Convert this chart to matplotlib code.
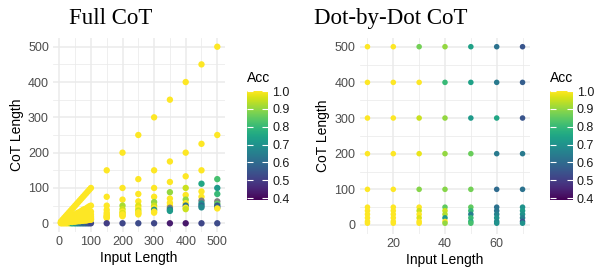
import matplotlib
matplotlib.use("Agg")
import matplotlib.pyplot as plt
from matplotlib.colors import Normalize
from matplotlib.ticker import MultipleLocator, FixedLocator
import numpy as np

# ---- Full CoT: short inputs (dense triangle), CoT lengths per input length
dense_input = [5, 10, 15, 20, 25, 30, 35, 40, 45, 50,
               55, 60, 65, 70, 75, 80, 85, 90, 95, 100]
dense_cot = [
    [5, 2, 1],
    [10, 5, 3, 2, 1],
    [15, 8, 5, 4, 3, 2],
    [20, 10, 7, 5, 4, 3, 2],
    [25, 12, 8, 6, 5, 4, 3],
    [30, 15, 10, 8, 6, 5, 4, 3],
    [35, 18, 12, 9, 7, 6, 5, 4],
    [40, 20, 13, 10, 8, 7, 6, 5, 4],
    [45, 22, 15, 11, 9, 8, 6, 6, 5],
    [50, 25, 17, 12, 10, 8, 7, 6, 6, 5],
    [55, 28, 18, 14, 11, 9, 8, 7, 6, 6],
    [60, 30, 20, 15, 12, 10, 9, 8, 7, 6],
    [65, 32, 22, 16, 13, 11, 9, 8, 7, 6],
    [70, 35, 23, 18, 14, 12, 10, 9, 8, 7],
    [75, 38, 25, 19, 15, 12, 11, 9, 8, 8],
    [80, 40, 27, 20, 16, 13, 11, 10, 9, 8],
    [85, 42, 28, 21, 17, 14, 12, 11, 9, 8],
    [90, 45, 30, 22, 18, 15, 13, 11, 10, 9],
    [95, 48, 32, 24, 19, 16, 14, 12, 11, 10],
    [100, 50, 33, 25, 20, 17, 14, 12, 11, 10],
]
# accuracy of the CoT length 0 row (the others are all 1.0)
dense_zero_acc = [1.0, 1.0, 1.0, 1.0, 1.0, 1.0, 0.9, 0.75, 0.8, 0.7,
                  0.72, 0.65, 0.68, 0.6, 0.62, 0.58, 0.6, 0.55, 0.55, 0.52]

# ---- Full CoT: long inputs
long_input = [150, 200, 250, 300, 350, 400, 450, 500]
long_cot = [
    [150, 75, 50, 38, 30, 25, 21, 19, 17, 15, 0],
    [200, 100, 67, 50, 40, 33, 29, 25, 22, 20, 0],
    [250, 125, 83, 62, 50, 42, 36, 31, 28, 25, 0],
    [300, 150, 100, 75, 60, 50, 43, 38, 33, 30, 0],
    [350, 175, 117, 88, 70, 58, 50, 44, 39, 35, 0],
    [400, 200, 133, 100, 80, 67, 57, 50, 44, 40, 0],
    [450, 225, 150, 112, 90, 75, 64, 56, 50, 45, 0],
    [500, 250, 125, 100, 83, 62, 55, 50, 45, 42, 0],
]
long_acc = [
    [1, 1, 1, 1, 1, 1, 1, 1, 1, 1, 0.50],
    [1, 1, 1, 0.92, 0.95, 1, 0.97, 1, 1, 1, 0.52],
    [1, 1, 1, 1, 0.97, 1, 0.95, 1, 1, 1, 0.53],
    [1, 1, 1, 1, 0.90, 0.95, 1, 0.70, 1, 1, 0.52],
    [1, 1, 1, 0.90, 1, 1, 1, np.nan, 0.65, 0.72, 0.44],
    [1, 1, 1, 0.95, 1, 0.90, 1, 0.62, 1, 0.95, 0.43],
    [1, 1, 1, 0.75, 1, 1, np.nan, 0.70, 0.60, 0.68, 0.52],
    [1, 1, 0.82, 0.72, 0.80, np.nan, 0.85, 0.55, 0.60, 1, 0.53],
]

# ---- Dot-by-Dot CoT
dot_input = [10, 20, 30, 40, 50, 60, 70]
dot_cot = [500, 400, 300, 200, 100, 50, 40, 30, 20, 10, 5]
dot_acc = [
    [1.0, 1.0, 0.87, 0.90, 0.74, 0.62, 0.55],
    [1.0, 1.0, 1.00, 0.80, 0.74, 0.64, 0.57],
    [1.0, 1.0, 0.95, 0.90, 0.72, 0.75, 0.55],
    [1.0, 1.0, 0.98, 0.90, 0.86, 0.64, 0.64],
    [1.0, 1.0, 0.89, 0.89, 0.87, 0.60, 0.62],
    [1.0, 1.0, 1.00, 0.85, 0.85, 0.62, 0.70],
    [1.0, 1.0, 0.95, 0.95, 0.80, 0.63, 0.72],
    [1.0, 1.0, 1.00, 0.93, 0.65, 0.66, 0.70],
    [1.0, 1.0, 0.97, 0.72, 0.80, 0.70, 0.65],
    [1.0, 1.0, 1.00, 1.00, 0.78, 0.68, 0.55],
    [1.0, 1.0, 1.00, 0.90, 0.82, 0.70, 0.70],
]

# ---- flatten
fx, fy, fc = [], [], []
for L, acc0 in zip(dense_input, dense_zero_acc):
    fx.append(L); fy.append(0); fc.append(acc0)
for L, cots in zip(dense_input, dense_cot):
    for c in cots:
        fx.append(L); fy.append(c); fc.append(1.0)
for L, cots, accs in zip(long_input, long_cot, long_acc):
    for c, a in zip(cots, accs):
        fx.append(L); fy.append(c); fc.append(a)

dx, dy, dc = [], [], []
for c, row in zip(dot_cot, dot_acc):
    for L, a in zip(dot_input, row):
        dx.append(L); dy.append(c); dc.append(a)

W, H = 605, 270
fig = plt.figure(figsize=(W / 100, H / 100), dpi=100)

def px_axes(x0, x1, y0, y1):
    return fig.add_axes([x0 / W, 1 - y1 / H, (x1 - x0) / W, (y1 - y0) / H])

cmap = plt.get_cmap("viridis").with_extremes(bad="#7F7F7F")
norm = Normalize(0.39, 1.0)
grid_c = "#EBEBEB"
tick_c = "#4D4D4D"
sans = ["Liberation Sans", "DejaVu Sans"]
serif = ["Liberation Serif", "DejaVu Serif"]


def style_axes(ax, xlim, xmajor, xminor):
    ax.set_xlim(*xlim)
    ax.set_ylim(-25, 525)
    ax.xaxis.set_major_locator(FixedLocator(xmajor))
    ax.xaxis.set_minor_locator(FixedLocator(xminor))
    ax.yaxis.set_major_locator(MultipleLocator(100))
    ax.yaxis.set_minor_locator(FixedLocator([50, 150, 250, 350, 450]))
    ax.grid(True, which="major", color=grid_c, lw=1.1, zorder=0)
    ax.grid(True, which="minor", color=grid_c, lw=0.55, zorder=0)
    ax.set_axisbelow(True)
    for s in ax.spines.values():
        s.set_visible(False)
    ax.tick_params(which="both", length=0, labelsize=9, labelcolor=tick_c, pad=3)
    for lab in ax.get_xticklabels() + ax.get_yticklabels():
        lab.set_family(sans)
    ax.set_xlabel("Input Length", fontsize=10, family=sans, labelpad=2)
    ax.set_ylabel("CoT Length", fontsize=10, family=sans, labelpad=3)


def add_cbar(sc, x0, x1):
    cax = px_axes(x0, x1, 91, 200)
    cb = fig.colorbar(sc, cax=cax)
    cb.outline.set_visible(False)
    cb.set_ticks([0.4, 0.5, 0.6, 0.7, 0.8, 0.9, 1.0])
    cb.set_ticklabels(["0.4", "0.5", "0.6", "0.7", "0.8", "0.9", "1.0"])
    cax.tick_params(direction="in", color="white", length=4, width=0.8,
                    left=True, right=True, labelsize=9, labelcolor="#1A1A1A", pad=3)
    for lab in cax.get_yticklabels():
        lab.set_family(sans)
    fig.text(x0 / W, 1 - 78 / H, "Acc", fontsize=10, family=sans,
             ha="left", va="center")


# Full CoT
ax1 = px_axes(53.1, 225.1, 37.9, 232.1)
sc1 = ax1.scatter(fx, fy, c=fc, cmap=cmap, norm=norm, s=21, linewidths=0,
                  plotnonfinite=True, zorder=2)
style_axes(ax1, (-19.75, 524.75), [0, 100, 200, 300, 400, 500],
           [50, 150, 250, 350, 450])
add_cbar(sc1, 246.7, 268.3)

# Dot-by-Dot CoT
ax2 = px_axes(359.7, 530.3, 37.8, 233.9)
sc2 = ax2.scatter(dx, dy, c=dc, cmap=cmap, norm=norm, s=16, linewidths=0,
                  plotnonfinite=True, zorder=2)
style_axes(ax2, (7, 73), [20, 40, 60], [10, 30, 50, 70])
add_cbar(sc2, 550, 572.7)

fig.text(111 / W, 1 - 24 / H, "Full CoT", fontsize=16.5, family=serif,
         ha="center", va="baseline")
fig.text(391 / W, 1 - 24 / H, "Dot-by-Dot CoT", fontsize=16.5, family=serif,
         ha="center", va="baseline")

fig.savefig("out.png", dpi=100)
